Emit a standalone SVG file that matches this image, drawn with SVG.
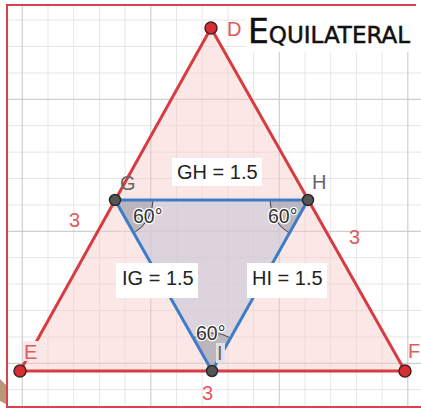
<svg xmlns="http://www.w3.org/2000/svg" width="421" height="409" viewBox="0 0 421 409">
<style>
.minor{stroke:#e6e6e6;stroke-width:1}
.major{stroke:#cfcfcf;stroke-width:1.2}
.red{fill:none;stroke:#d63c42;stroke-width:3;stroke-linecap:round}
.blue{fill:none;stroke:#3d7cc9;stroke-width:3;stroke-linecap:round}
.wedge{fill:#6f6f78;fill-opacity:0.3;stroke:#444;stroke-width:1}
.lbl{font-family:"Liberation Sans",Arial,sans-serif;font-size:20px}
.rl{fill:#e05a60}
.gl{fill:#666}
.ang{font-family:"Liberation Sans",Arial,sans-serif;font-size:19.5px;fill:#333;stroke:#fff;stroke-width:2.5;paint-order:stroke;stroke-linejoin:round}
.eq{font-family:"Liberation Sans",Arial,sans-serif;font-size:20px;fill:#222}
.box{fill:#fff}
.ptR{fill:#d62f33;stroke:#4a2020;stroke-width:1.5}
.ptG{fill:#555;stroke:#2a2a2a;stroke-width:1.5}
</style>
<rect x="0" y="0" width="421" height="409" fill="#fff"/>
<g id="grid">
<path class="minor" d="M48,5V407M73.7,5V407M99.4,5V407M125.1,5V407M176.5,5V407M202.2,5V407M227.9,5V407M253.6,5V407M305,5V407M330.7,5V407M356.4,5V407M382.1,5V407M7,20.1H421M7,46.5H421M7,72.9H421M7,125.7H421M7,152.1H421M7,178.5H421M7,204.9H421M7,257.7H421M7,284.1H421M7,310.5H421M7,336.9H421M7,389.7H421"/>
<path class="major" d="M22.3,5V407M150.8,5V407M279.3,5V407M407.8,5V407M7,99.3H421M7,231.3H421M7,363.3H421"/>
</g>
<g id="frame">
<path d="M416,5H7V407H421" fill="none" stroke="#d9434e" stroke-width="2"/>
<polygon points="0,379 6,385 6,404 0,401" fill="#b8987a"/>
</g>
<g id="title">
<rect x="246" y="6" width="175" height="46" fill="#fff"/>
<text x="248" y="43" font-family="'DejaVu Sans',sans-serif" fill="#111" stroke="#111" stroke-width="0.5"><tspan font-size="33">E</tspan><tspan font-size="23">QUILATERAL</tspan></text>
</g>
<g id="triangle-DEF">
<polygon points="211,28 20,371 405,371" fill="#f8caca" fill-opacity="0.45"/>
</g>
<g id="triangle-GHI">
<polygon points="115,200 308,200 212,371" fill="#cfcad9" fill-opacity="0.7"/>
</g>
<g id="angles">
<path class="wedge" d="M115,200 L153,200 A38,38 0 0 1 133.7,233.1 Z"/>
<path class="wedge" d="M308,200 L289.4,233.1 A38,38 0 0 1 270,200 Z"/>
<path class="wedge" d="M212,371 L193.3,337.9 A38,38 0 0 1 230.6,337.9 Z"/>
</g>
<g id="connectors">
<line class="red" x1="211" y1="28" x2="20" y2="371"/>
<line class="red" x1="211" y1="28" x2="405" y2="371"/>
<line class="red" x1="20" y1="371" x2="405" y2="371"/>
<line class="blue" x1="115" y1="200" x2="308" y2="200"/>
<line class="blue" x1="115" y1="200" x2="212" y2="371"/>
<line class="blue" x1="308" y1="200" x2="212" y2="371"/>
</g>
<g id="edge-labels">
<rect class="box" x="172" y="158" width="90" height="28"/>
<text class="eq" x="177" y="179">GH = 1.5</text>
<rect class="box" x="116" y="263" width="82" height="35"/>
<text class="eq" x="122" y="285">IG = 1.5</text>
<rect class="box" x="247" y="263" width="80" height="35"/>
<text class="eq" x="252" y="285">HI = 1.5</text>
<text class="lbl rl" x="69" y="227">3</text>
<text class="lbl rl" x="349" y="244">3</text>
<text class="lbl rl" x="202" y="400">3</text>
<text class="ang" x="133" y="223">60°</text>
<text class="ang" x="268" y="223">60°</text>
<text class="ang" x="196" y="340">60°</text>
</g>
<g id="node-D">
<circle class="ptR" cx="211" cy="28" r="6"/>
<text class="lbl rl" x="227" y="36">D</text>
</g>
<g id="node-E">
<rect x="23" y="341" width="16" height="20" fill="#fbe7e7"/>
<circle class="ptR" cx="20" cy="371" r="6"/>
<text class="lbl rl" x="24" y="359">E</text>
</g>
<g id="node-F">
<circle class="ptR" cx="405" cy="371" r="6"/>
<text class="lbl rl" x="408" y="358">F</text>
</g>
<g id="node-G">
<circle class="ptG" cx="115" cy="200" r="5.5"/>
<text class="lbl gl" x="120" y="190">G</text>
</g>
<g id="node-H">
<circle class="ptG" cx="308" cy="200" r="5.5"/>
<text class="lbl gl" x="312" y="189">H</text>
</g>
<g id="node-I">
<rect x="216" y="343" width="9" height="20" fill="#e4e0e8"/>
<circle class="ptG" cx="212" cy="371" r="5.5"/>
<text class="lbl gl" x="217" y="360">I</text>
</g>
</svg>
